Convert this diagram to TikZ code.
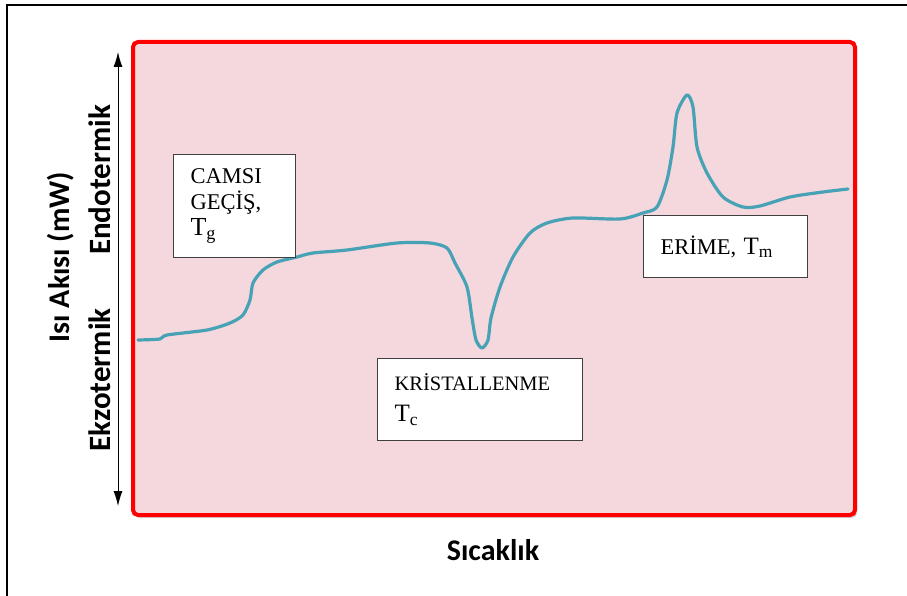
\documentclass[tikz,border=0pt]{standalone}
\usepackage{fontspec}
\setmainfont{Liberation Serif}
\newfontfamily\axisfont{Carlito}
\usetikzlibrary{arrows.meta,shadows}
\definecolor{plotbg}{RGB}{244,216,221}
\definecolor{dsccurve}{RGB}{72,162,182}
\tikzset{
  labelbox/.style={draw=black!75,fill=white,line width=1.2pt,anchor=north west,
                   align=left,inner xsep=17pt,inner ysep=0pt},
  axislabel/.style={font=\axisfont\bfseries\fontsize{30}{34}\selectfont,text=black},
  sidelabel/.style={axislabel,font=\axisfont\bfseries\fontsize{31}{34}\selectfont,rotate=90}
}
\begin{document}
\begin{tikzpicture}[x=1pt,y=-1pt]
  \useasboundingbox (0,0) rectangle (907,596);
  \draw[line width=1.5pt] (907,5) -- (7,5) -- (7,596);
  \draw[red,line width=4pt,fill=plotbg,rounded corners=5pt,
        drop shadow={shadow xshift=2pt,shadow yshift=-3pt,opacity=.35}]
        (133,42) rectangle (855,515);
  \coordinate (ytop) at (118,52);
  \coordinate (ybot) at (118,506);
  \draw[line width=1pt,{Latex[length=15pt,width=9pt]}-{Latex[length=15pt,width=9pt]}] (ytop) -- (ybot);
  \node[axislabel,rotate=90] (heat) at (61,257) {Isı Akısı (mW)};
  \node[sidelabel] (endo) at (100,180) {Endotermik};
  \node[sidelabel] (exo)  at (100,380) {Ekzotermik};
  \node[axislabel] (temp) at (493,550) {Sıcaklık};
  \draw[dsccurve,line width=3.2pt,line cap=round,line join=round] plot[smooth,tension=.45] coordinates {
    (138,340) (160,339) (167,335) (207,330) (230,323) (243,315) (250,300)
    (253,283) (263,270) (277,262) (297,257) (313,253) (347,250) (397,243)
    (430,243) (447,248) (455,263) (467,287) (472,318) (476,340) (482,348)
    (488,340) (491,318) (500,287) (513,257) (530,233) (547,223) (573,218)
    (620,219) (643,213) (657,207) (667,180) (673,147) (677,113) (687,95)
    (693,107) (697,147) (707,173) (723,197) (743,207) (760,206) (790,197)
    (823,192) (848,189)};
  \node[labelbox,text width=88pt,minimum height=103pt,font=\fontsize{22.5}{26}\selectfont] (glass) at (173,154)
    {CAMSI\\GEÇİŞ,\\{\fontsize{26}{26}\selectfont T\textsubscript{g}}};
  \node[labelbox,text width=171pt,minimum height=82pt,font=\fontsize{20.5}{31}\selectfont] (cryst) at (377,358)
    {KRİSTALLENME\\{\fontsize{25}{26}\selectfont T\textsubscript{c}}};
  \node[labelbox,text width=130pt,minimum height=62pt,font=\fontsize{22.5}{26}\selectfont] (melt) at (643,215)
    {ERİME, {\fontsize{25}{26}\selectfont T\textsubscript{m}}};
\end{tikzpicture}
\end{document}
